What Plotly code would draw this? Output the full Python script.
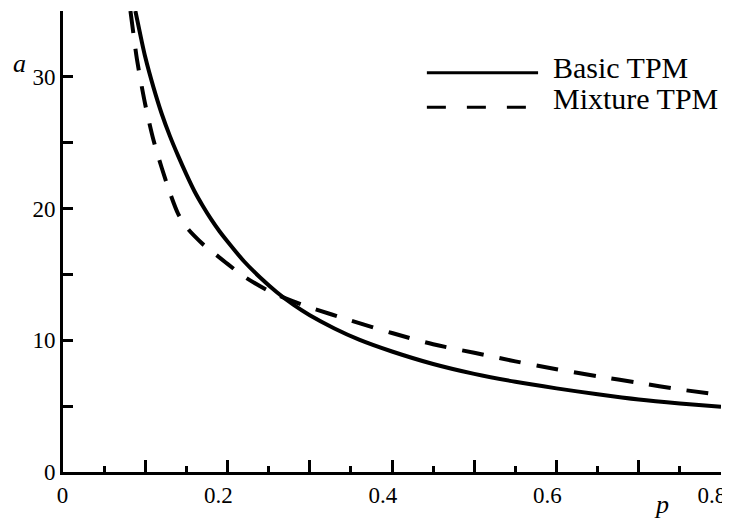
import plotly.graph_objects as go

# Basic TPM (solid)
p_basic = [0.088, 0.095, 0.10, 0.11, 0.12, 0.13, 0.14, 0.15, 0.16, 0.17, 0.18, 0.19,
           0.20, 0.22, 0.24, 0.26, 0.28, 0.30, 0.33, 0.36, 0.40, 0.45, 0.50, 0.55,
           0.60, 0.65, 0.70, 0.75, 0.80]
a_basic = [35.0, 32.9, 31.5, 29.2, 27.2, 25.5, 24.0, 22.6, 21.3, 20.2, 19.2, 18.3,
           17.5, 16.0, 14.75, 13.65, 12.7, 11.9, 10.9, 10.05, 9.15, 8.2, 7.45, 6.85,
           6.35, 5.9, 5.5, 5.2, 4.95]

# Mixture TPM (dashed)
p_mix = [0.082, 0.086, 0.09, 0.10, 0.11, 0.12, 0.13, 0.14, 0.15, 0.16, 0.17, 0.18,
         0.20, 0.22, 0.25, 0.28, 0.30, 0.35, 0.40, 0.45, 0.50, 0.55, 0.60, 0.65,
         0.70, 0.75, 0.80]
a_mix = [35.0, 33.1, 31.3, 27.9, 25.2, 23.1, 21.2, 19.6, 18.6, 17.9, 17.3, 16.8,
         15.8, 14.85, 13.75, 12.95, 12.5, 11.5, 10.55, 9.7, 9.05, 8.4, 7.8, 7.27,
         6.77, 6.27, 5.85]

series_names = ["Basic TPM", "Mixture TPM"]

x_tickvals = [0, 0.1, 0.2, 0.3, 0.4, 0.5, 0.6, 0.7, 0.8]
x_ticktext = ["0", "", "0.2", "", "0.4", "", "0.6", "", "0.8"]
y_tickvals = [0, 5, 10, 15, 20, 25, 30, 35]
y_ticktext = ["0", "", "10", "", "20", "", "30", ""]

FONT = "'Liberation Serif', 'Times New Roman', 'DejaVu Serif', serif"

fig = go.Figure()
fig.add_trace(go.Scatter(x=p_basic, y=a_basic, mode="lines", name=series_names[0],
                         line=dict(color="black", width=4, shape="spline", smoothing=0.8),
                         showlegend=False))
fig.add_trace(go.Scatter(x=p_mix, y=a_mix, mode="lines", name=series_names[1],
                         line=dict(color="black", width=4, dash="22px,16px",
                                   shape="spline", smoothing=0.8),
                         showlegend=False))

# custom legend (long line keys like the original)
fig.add_shape(type="line", xref="paper", yref="paper", x0=0.553, x1=0.722, y0=0.866, y1=0.866,
              line=dict(color="black", width=3))
fig.add_shape(type="line", xref="paper", yref="paper", x0=0.553, x1=0.722, y0=0.791, y1=0.791,
              line=dict(color="black", width=3, dash="19px,21px"))
fig.add_annotation(text=series_names[0], xref="paper", yref="paper", x=0.7416, y=0.877,
                   xanchor="left", yanchor="middle", showarrow=False,
                   font=dict(family=FONT, size=30, color="black"))
fig.add_annotation(text=series_names[1], xref="paper", yref="paper", x=0.7416, y=0.810,
                   xanchor="left", yanchor="middle", showarrow=False,
                   font=dict(family=FONT, size=30, color="black"))

# axis titles
fig.add_annotation(text="<i>a</i>", xref="paper", yref="paper", x=-0.0661, y=0.887,
                   xanchor="center", yanchor="middle", showarrow=False,
                   font=dict(family=FONT, size=26, color="black"))
fig.add_annotation(text="<i>p</i>", xref="paper", yref="paper", x=0.909, y=-0.0705,
                   xanchor="center", yanchor="middle", showarrow=False,
                   font=dict(family=FONT, size=26, color="black"))

# page body adds an 8px offset, so the figure is 8px smaller and margins compensate
fig.update_layout(
    width=722, height=517,
    margin=dict(l=55, r=9, t=3, b=53),
    paper_bgcolor="white", plot_bgcolor="white",
    font=dict(family=FONT, size=23, color="black"),
    showlegend=False,
)
fig.update_xaxes(
    range=[0, 0.8], showgrid=False, zeroline=False, automargin=False,
    showline=True, linewidth=3, linecolor="black",
    tickmode="array", tickvals=x_tickvals, ticktext=x_ticktext,
    ticks="inside", ticklen=12, tickwidth=2.5, tickcolor="black",
    ticklabelposition="outside left", ticklabelshift=8,
    tickfont=dict(family=FONT, size=23, color="black"),
    minor=dict(tickmode="linear", tick0=0, dtick=0.05, ticks="inside", ticklen=6,
               tickwidth=2.5, tickcolor="black", showgrid=False),
)
fig.update_yaxes(
    range=[0, 35], showgrid=False, zeroline=False, automargin=False,
    showline=True, linewidth=3, linecolor="black",
    tickmode="array", tickvals=y_tickvals, ticktext=y_ticktext,
    ticks="inside", ticklen=10, tickwidth=2.5, tickcolor="black",
    tickfont=dict(family=FONT, size=23, color="black"),
)

fig.write_html("out.html")
